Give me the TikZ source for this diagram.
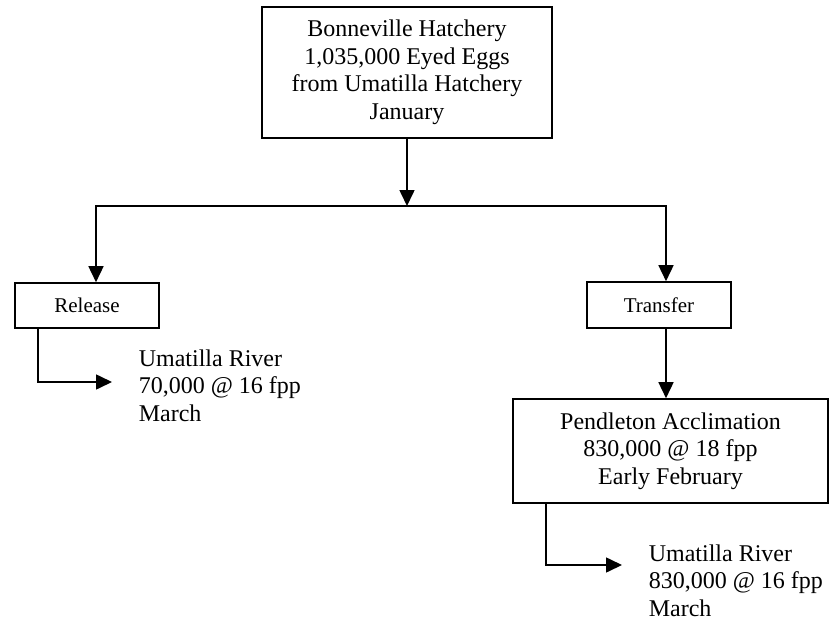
\documentclass[tikz,border=0pt]{standalone}
\usepackage{fontspec}
\setmainfont{Liberation Serif}
\usetikzlibrary{arrows.meta,positioning}
\tikzset{
box/.style={draw,rectangle,inner sep=0pt,align=center,font=\fontsize{24}{27.5}\selectfont},
smallbox/.style={box,font=\fontsize{21}{24}\selectfont},
note/.style={inner sep=0pt,align=left,anchor=north west,font=\fontsize{24}{27.5}\selectfont}
}
\begin{document}
\begin{tikzpicture}[line cap=butt,line join=miter,>={Triangle[length=16pt,width=15pt]},x=1pt,y=-1pt,line width=1.6pt]
\useasboundingbox (0,0) rectangle (838,621);
% boxes
\node[box,minimum width=290pt,minimum height=131pt] (hatchery) at (407,72.5) {Bonneville Hatchery\\1,035,000 Eyed Eggs\\from Umatilla Hatchery\\January};
\node[smallbox,minimum width=144pt,minimum height=45pt] (release) at (87,305.5) {Release};
\node[smallbox,minimum width=144pt,minimum height=46pt] (transfer) at (659,305) {Transfer};
\node[box,minimum width=315pt,minimum height=104pt] (pendleton) at (670.5,451) {Pendleton Acclimation\\830,000 @ 18 fpp\\Early February};
\node[note] (relriver) at (138,349) {Umatilla River\\70,000 @ 16 fpp\\March};
\node[note] (accriver) at (648,544) {Umatilla River\\830,000 @ 16 fpp\\March};
% connectors
\coordinate (split) at (407,206);
\coordinate (relbend) at (38,382);
\coordinate (reltip) at (112,382);
\coordinate (accbend) at (546,565);
\coordinate (acctip) at (622,565);
\draw[->] (hatchery) -- (split);
\draw[->] (split) -| ([xshift=9pt]release.north);
\draw[->] (split) -| ([xshift=7pt]transfer.north);
\draw[->] ([xshift=7pt]transfer.south) -- ([xshift=7pt]transfer.south |- pendleton.north);
\draw[->] (release.south -| relbend) |- (reltip);
\draw[->] (pendleton.south -| accbend) |- (acctip);
\end{tikzpicture}
\end{document}
